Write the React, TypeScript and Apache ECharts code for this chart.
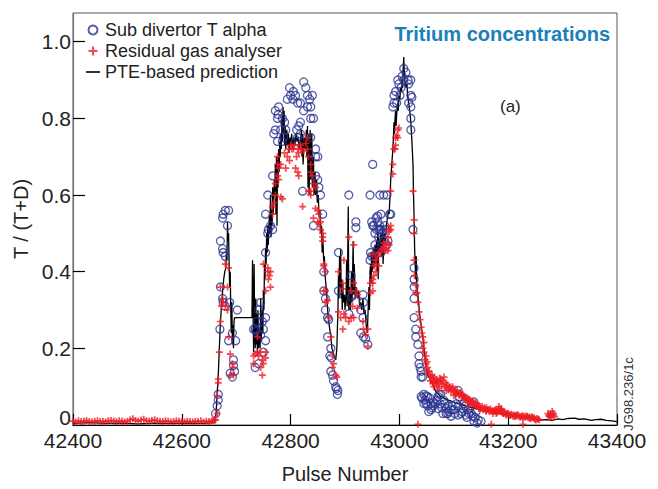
import React, { useEffect, useRef } from "react";
import * as echarts from "echarts";

const FONT = "'Liberation Sans', Arial, Helvetica, sans-serif";

const xTicks = [42400, 42600, 42800, 43000, 43200, 43400];
const yTicks = [0, 0.2, 0.4, 0.6, 0.8, 1.0];

const seriesNames = ["Sub divertor T alpha", "Residual gas analyser", "PTE-based prediction"];

// PTE-based prediction: [pulse, T/(T+D)]
const ptePrediction: number[][] = [
  [42400,0.004],[42430,0.006],[42460,0.004],[42490,0.005],[42520,0.003],[42550,0.005],[42580,0.004],[42610,0.005],[42640,0.004],[42660,0.006],
  [42663,0.03],[42665,0.08],[42667,0.13],[42669,0.2],[42671,0.27],[42673,0.31],[42675,0.35],[42677,0.38],[42679,0.4],[42681,0.41],[42682,0.45],[42683,0.43],[42684,0.53],[42685,0.48],[42686,0.5],[42687,0.42],[42688,0.36],[42689,0.4],[42690,0.3],[42691,0.24],[42692,0.32],[42693,0.21],[42694,0.26],[42695,0.2],[42696,0.27],[42697,0.28],[42729,0.28],
  [42730,0.43],[42731,0.3],[42732,0.19],[42733,0.42],[42734,0.24],[42735,0.2],[42736,0.33],[42737,0.21],[42738,0.29],[42739,0.18],[42740,0.3],[42741,0.2],[42742,0.25],[42744,0.2],[42745,0.33],[42746,0.22],[42748,0.3],[42749,0.24],[42750,0.35],[42751,0.3],[42752,0.42],[42753,0.38],[42754,0.46],[42755,0.42],[42756,0.5],[42757,0.45],[42758,0.52],[42759,0.47],[42761,0.55],[42762,0.5],[42763,0.6],[42764,0.49],[42765,0.56],[42766,0.52],[42767,0.62],[42768,0.55],[42769,0.58],[42770,0.64],[42771,0.6],[42772,0.68],[42773,0.55],[42774,0.7],[42775,0.52],[42776,0.7],[42777,0.62],[42778,0.72],[42779,0.66],[42780,0.74],[42781,0.7],[42782,0.76],[42783,0.72],[42784,0.8],[42785,0.74],[42786,0.83],[42787,0.76],[42788,0.82],[42789,0.73],[42790,0.78],[42791,0.72],[42793,0.77],[42794,0.73],[42796,0.76],[42797,0.71],[42799,0.75],[42800,0.73],[42802,0.76],[42804,0.72],[42806,0.75],[42808,0.73],[42810,0.76],[42812,0.74],[42814,0.75],[42816,0.72],[42818,0.74],[42820,0.77],[42821,0.7],[42822,0.76],[42823,0.68],[42825,0.75],[42827,0.72],[42829,0.77],[42830,0.7],[42831,0.78],[42832,0.62],[42833,0.76],[42834,0.6],[42836,0.77],[42837,0.64],[42839,0.76],[42840,0.62],[42842,0.7],[42843,0.6],[42845,0.66],[42846,0.6],[42848,0.64],[42849,0.58],[42851,0.6],[42852,0.55],[42854,0.56],[42855,0.5],[42857,0.52],[42858,0.45],[42859,0.5],[42861,0.42],[42862,0.44],[42864,0.38],[42866,0.35],[42868,0.3],[42870,0.27],[42872,0.25],[42874,0.23],[42876,0.2],[42878,0.19],[42880,0.18],[42883,0.17],
  [42885,0.2],[42886,0.25],[42887,0.3],[42888,0.39],[42889,0.33],[42890,0.44],[42891,0.36],[42892,0.46],[42893,0.33],[42894,0.38],[42895,0.3],[42896,0.37],[42897,0.32],[42899,0.34],[42900,0.3],[42902,0.34],[42903,0.43],[42904,0.31],[42906,0.57],[42907,0.3],[42908,0.36],[42910,0.3],[42912,0.4],[42913,0.32],[42915,0.48],[42916,0.34],[42917,0.42],[42919,0.33],[42921,0.36],[42923,0.33],[42925,0.35],[42927,0.31],[42929,0.32],[42931,0.3],[42933,0.33],[42935,0.29],[42937,0.3],[42939,0.26],[42941,0.24],[42942,0.28],[42944,0.36],[42945,0.3],[42946,0.4],[42947,0.42],[42948,0.37],[42949,0.45],[42950,0.4],[42952,0.46],[42953,0.41],[42955,0.47],[42956,0.42],[42958,0.48],[42959,0.4],[42960,0.5],[42961,0.38],[42962,0.49],[42964,0.45],[42966,0.5],[42967,0.44],[42969,0.51],[42970,0.42],[42972,0.5],[42974,0.48],[42976,0.52],[42978,0.54],[42980,0.56],[42981,0.55],[42983,0.6],[42984,0.64],[42986,0.68],[42988,0.72],[42989,0.75],[42990,0.79],[42991,0.76],[42992,0.8],[42993,0.82],[42994,0.78],[42995,0.81],[42997,0.84],[42998,0.82],[42999,0.86],[43001,0.85],[43002,0.88],[43004,0.87],[43005,0.9],[43006,0.88],[43007,0.93],[43008,0.96],[43009,0.92],[43010,0.9],[43012,0.88],[43014,0.89],[43015,0.86],[43017,0.84],[43019,0.82],[43021,0.79],[43023,0.74],[43025,0.68],[43026,0.6],[43027,0.54],[43028,0.46],[43029,0.42],[43030,0.38],[43031,0.44],[43032,0.36],[43034,0.34],[43036,0.31],[43038,0.28],[43040,0.26],[43043,0.23],[43046,0.19],[43049,0.15],[43052,0.13],[43056,0.12],[43060,0.11],[43066,0.09],[43076,0.074],[43090,0.065],[43108,0.056],[43125,0.048],[43150,0.04],[43175,0.032],[43200,0.026],[43220,0.021],[43242,0.018],[43255,0.013],[43261,0.013],[43270,0.014],[43280,0.012],[43292,0.016],[43300,0.014],[43310,0.017],[43322,0.018],[43330,0.015],[43340,0.016],[43353,0.012],[43360,0.014],[43371,0.015],[43380,0.012],[43395,0.01],[43400,0.008]
];

// Sub divertor T alpha: [pulse, T/(T+D)]
const subDivertor: number[][] = [
  [42662,0.03],[42665,0.05],[42667,0.065],[42667,0.08],[42670,0.25],[42671,0.36],[42675,0.33],[42676,0.32],[42680,0.31],[42671,0.48],[42675,0.46],[42676,0.45],[42680,0.44],[42676,0.55],[42680,0.56],[42686,0.56],[42675,0.54],[42684,0.52],[42688,0.32],[42702,0.30],[42686,0.22],[42693,0.24],[42699,0.22],[42695,0.17],[42695,0.155],[42693,0.125],[42689,0.135],[42697,0.14],
  [42735,0.25],[42732,0.25],[42739,0.27],[42745,0.32],[42741,0.30],[42754,0.28],[42748,0.27],[42750,0.25],[42754,0.22],[42735,0.15],[42741,0.16],[42750,0.19],[42737,0.245],[42745,0.235],[42754,0.45],[42758,0.50],[42763,0.52],[42759,0.51],[42767,0.51],[42754,0.55],[42758,0.60],[42767,0.65],
  [42772,0.82],[42778,0.83],[42776,0.80],[42785,0.80],[42777,0.81],[42772,0.77],[42782,0.77],[42769,0.76],[42776,0.74],[42787,0.75],[42785,0.74],[42794,0.85],[42800,0.86],[42804,0.85],[42798,0.88],[42805,0.87],[42809,0.86],[42813,0.84],[42818,0.84],[42824,0.895],[42828,0.88],[42831,0.86],[42835,0.85],[42840,0.86],[42831,0.83],[42837,0.83],[42824,0.82],[42818,0.79],[42815,0.78],[42837,0.80],[42842,0.80],[42811,0.77],[42818,0.76],[42809,0.74],[42813,0.75],[42837,0.75],[42846,0.72],[42846,0.70],[42850,0.70],[42846,0.65],[42850,0.64],[42852,0.62],[42855,0.60],[42822,0.61],[42859,0.55],[42842,0.52],[42861,0.40],[42791,0.77],[42789,0.79],
  [42861,0.35],[42864,0.33],[42864,0.30],[42868,0.28],[42870,0.275],[42868,0.23],[42874,0.20],[42872,0.18],[42875,0.175],[42874,0.14],[42877,0.13],[42879,0.115],[42883,0.10],[42887,0.09],[42884,0.095],[42886,0.08],
  [42888,0.45],[42888,0.35],[42907,0.60],[42911,0.39],[42920,0.53],[42920,0.515],[42914,0.34],[42912,0.335],[42907,0.29],[42933,0.34],[42929,0.30],[42934,0.32],[42933,0.28],[42929,0.24],[42934,0.23],[42938,0.225],[42942,0.21],
  [42946,0.60],[42964,0.60],[42971,0.60],[42977,0.60],[42951,0.68],[42947,0.45],[42949,0.44],[42953,0.44],[42957,0.54],[42960,0.545],[42966,0.55],[42962,0.51],[42964,0.51],[42966,0.51],[42975,0.51],[42982,0.55],[42951,0.52],
  [42949,0.53],[42953,0.52],[42955,0.50],[42958,0.51],[42960,0.53],[42962,0.49],[42964,0.52],[42968,0.50],[42971,0.48],[42973,0.52],[42977,0.47],[42979,0.48],[42984,0.55],[42946,0.43],[42955,0.47],[42960,0.46],[42966,0.45],
  [43008,0.93],[43012,0.92],[43008,0.90],[43016,0.90],[43021,0.90],[42997,0.90],[42999,0.89],[42993,0.87],[42990,0.86],[43003,0.88],[43017,0.89],[42990,0.84],[42995,0.84],[42988,0.83],[43021,0.86],[43023,0.855],[43017,0.84],[43021,0.83],[43021,0.80],[43021,0.77],[43001,0.86],[43005,0.91],
  [43025,0.51],[43027,0.41],[43027,0.38],[43027,0.36],[43027,0.33],[43027,0.28],[43030,0.25],[43030,0.23],[43034,0.21],[43036,0.18],[43036,0.16],[43040,0.14],[43040,0.125],[43043,0.125],[43038,0.15],[43045,0.08],[43052,0.074],[43049,0.056],[43058,0.056],[43058,0.04],[43071,0.074],[43076,0.08],[43082,0.064],[43089,0.05],[43086,0.03],[43095,0.04],[43108,0.09],[43110,0.074],[43108,0.05],[43119,0.056],[43126,0.04],[43132,0.03],[43137,0.06],[43135,0.023],[43145,0.013],[43150,0.01],[43095,0.023],[43113,0.03],
  [43040,0.074],[43049,0.076],[43045,0.056],[43052,0.05],[43062,0.05],[43063,0.06],[43054,0.035],[43071,0.043],[43073,0.08],[43086,0.043],[43089,0.03],[43100,0.04],[43108,0.026],[43117,0.043],[43122,0.026],[43128,0.03],[43080,0.03],[43137,0.01],
  [43042,0.07],[43047,0.065],[43056,0.07],[43060,0.045],[43066,0.055],[43069,0.065],[43075,0.055],[43078,0.045],[43084,0.055],[43091,0.035],[43097,0.05],[43102,0.03],[43104,0.055],[43115,0.035],[43121,0.05],[43124,0.02],[43130,0.045],[43139,0.02],[43141,0.035],[43143,0.005]
];

// Residual gas analyser: [pulse, T/(T+D)]
const rgaBaseline: number[][] = [
  [42400,0.010],[42405,0.008],[42410,0.011],[42415,0.009],[42420,0.010],[42425,0.012],[42430,0.009],[42435,0.008],[42440,0.010],[42445,0.011],[42450,0.009],[42455,0.010],[42460,0.008],[42465,0.011],[42470,0.012],[42475,0.010],[42480,0.009],[42485,0.011],[42490,0.010],[42495,0.008],[42500,0.010],[42505,0.013],[42510,0.016],[42515,0.012],[42520,0.010],[42525,0.013],[42530,0.015],[42535,0.011],[42540,0.010],[42545,0.012],[42550,0.014],[42555,0.011],[42560,0.010],[42565,0.009],[42570,0.011],[42575,0.010],[42580,0.008],[42585,0.009],[42590,0.011],[42595,0.010],[42600,0.009],[42605,0.008],[42610,0.010],[42615,0.009],[42620,0.008],[42625,0.010],[42630,0.009],[42635,0.011],[42640,0.008],[42645,0.010],[42650,0.009],[42655,0.011],[42658,0.012],[42661,0.014]
];

const rgaPulses: number[][] = [
  [42662,0.013],[42665,0.03],[42665,0.077],[42667,0.11],[42667,0.12],[42669,0.19],[42671,0.27],[42673,0.31],[42675,0.33],[42676,0.32],[42680,0.31],[42684,0.30],[42686,0.41],[42671,0.36],[42684,0.36],[42686,0.23],[42689,0.185],[42693,0.16],[42695,0.15],[42689,0.13],[42695,0.13],[42680,0.42],
  [42735,0.185],[42739,0.19],[42745,0.19],[42741,0.18],[42732,0.18],[42748,0.17],[42754,0.19],[42754,0.175],[42745,0.15],[42748,0.13],[42750,0.16],[42739,0.23],[42732,0.16],[42750,0.42],[42758,0.40],[42759,0.38],[42763,0.36],[42754,0.35],[42761,0.39],[42763,0.40],
  [42758,0.41],[42767,0.55],[42769,0.58],[42767,0.57],[42772,0.60],[42772,0.63],[42776,0.65],[42778,0.67],[42782,0.68],[42776,0.68],[42778,0.64],[42782,0.595],[42785,0.59],[42791,0.67],[42794,0.70],[42796,0.72],[42800,0.73],[42802,0.72],[42805,0.72],[42807,0.73],[42813,0.72],[42815,0.71],[42818,0.73],[42820,0.72],[42824,0.715],[42828,0.735],[42831,0.75],[42831,0.72],[42833,0.70],[42837,0.68],[42809,0.67],[42813,0.66],[42815,0.65],[42822,0.57],[42837,0.66],[42840,0.65],[42842,0.63],[42846,0.62],[42837,0.61],[42850,0.56],[42852,0.55],[42850,0.53],[42842,0.54],[42855,0.53],[42855,0.51],[42859,0.49],[42861,0.42],[42864,0.40],[42776,0.70],[42798,0.69],[42789,0.71],[42811,0.70],
  [42833,0.61],[42837,0.60],[42846,0.565],[42852,0.525],[42859,0.50],[42859,0.48],[42861,0.415],[42861,0.35],[42864,0.35],[42868,0.325],[42864,0.32],[42870,0.28],[42874,0.23],[42877,0.18],[42879,0.16],[42877,0.15],[42883,0.13],[42885,0.125],
  [42888,0.40],[42896,0.37],[42898,0.43],[42896,0.355],[42907,0.49],[42916,0.47],[42911,0.35],[42916,0.37],[42920,0.35],[42923,0.34],[42888,0.295],[42892,0.28],[42898,0.29],[42896,0.25],[42901,0.28],[42907,0.27],[42911,0.28],[42916,0.28],[42914,0.31],[42923,0.305],[42933,0.27],[42934,0.25],[42942,0.25],[42938,0.235],[42942,0.205],
  [42947,0.37],[42951,0.35],[42951,0.445],[42953,0.415],[42957,0.43],[42960,0.44],[42962,0.415],[42966,0.45],[42969,0.46],[42971,0.475],[42975,0.455],[42979,0.455],[42979,0.49],[42981,0.505],[42984,0.52],[42981,0.47],[42951,0.37],[42947,0.345],[42957,0.42],[42962,0.45],[42971,0.465],[42975,0.46],[42979,0.475],[42981,0.51],[42984,0.51],[42957,0.40],[42953,0.39],[42951,0.38],
  [42984,0.61],[42988,0.655],[42988,0.68],[42990,0.72],[42993,0.73],[42992,0.72],[42997,0.75],[42993,0.75],[42997,0.77],[42999,0.775],[42995,0.755],
  [43025,0.61],[43027,0.535],[43027,0.50],[43027,0.43],[43028,0.39],[43030,0.365],[43030,0.345],[43032,0.345],[43034,0.32],[43036,0.295],[43038,0.275],[43040,0.255],[43041,0.24],[43043,0.23],[43045,0.215],[43045,0.19],[43049,0.18],[43051,0.165],[43052,0.15],[43054,0.14],[43058,0.125],[43062,0.115],[43063,0.11],[43067,0.108],[43069,0.112],[43076,0.115],[43082,0.125],[43086,0.10],[43091,0.095],[43098,0.10],[43104,0.08],[43110,0.08],[43117,0.074],[43122,0.064],[43128,0.05],[43135,0.056],[43141,0.048],[43146,0.043],[43154,0.04],[43159,0.036],[43165,0.036],[43172,0.03],[43178,0.03],[43183,0.038],[43187,0.043],[43191,0.03],[43196,0.026],[43202,0.026],[43209,0.023],[43215,0.023],[43220,0.023],[43227,0.018],[43233,0.023],[43239,0.018],[43246,0.018],[43251,0.013],[43275,0.026],[43279,0.023],[43283,0.03],
  [43043,0.20],[43049,0.16],[43054,0.14],[43062,0.108],[43063,0.10],[43076,0.12],[43073,0.095],[43086,0.09],[43095,0.087],[43100,0.077],[43110,0.077],[43119,0.07],[43126,0.064],[43132,0.06],[43141,0.05],[43150,0.043],[43159,0.038],[43169,0.036],[43178,0.036],[43183,0.048],[43187,0.04],[43192,0.03],[43211,0.026],[43229,0.023],[43239,0.02],[43248,0.018],[43255,0.015],[43275,0.023],[43283,0.026],
  [43060,0.13],[43065,0.115],[43070,0.1],[43078,0.105],[43085,0.11],[43093,0.1],[43102,0.085],[43106,0.09],[43114,0.08],[43124,0.07],[43130,0.065],[43138,0.055],[43144,0.05],[43148,0.045],[43156,0.045],[43162,0.04],[43175,0.038],[43180,0.033],[43190,0.035],[43198,0.03],[43205,0.028],[43213,0.025],[43218,0.027],[43224,0.022],[43236,0.02],[43243,0.021],[43253,0.017],[43278,0.03],
  [43047,0.17],[43050,0.14],[43056,0.13],[43057,0.115],[43061,0.12],[43064,0.125],[43068,0.118],[43072,0.11],[43074,0.122],[43080,0.115],[43083,0.1],[43088,0.105],[43090,0.092],[43096,0.095],[43099,0.09],[43103,0.09],[43107,0.083],[43112,0.085],[43116,0.078],[43120,0.075],[43123,0.072],[43127,0.068],[43134,0.062],[43136,0.06],[43140,0.058],[43143,0.055],[43147,0.05],[43152,0.048],[43157,0.042],[43160,0.045],[43164,0.04],[43167,0.042],[43171,0.038],[43174,0.035],[43177,0.04],[43181,0.04],[43185,0.036],[43189,0.032],[43194,0.033],[43197,0.028],[43200,0.03],[43204,0.025],[43207,0.027],[43212,0.022],[43216,0.026],[43222,0.02],[43226,0.024],[43231,0.02],[43235,0.023],[43241,0.016],[43244,0.02],[43249,0.015],[43257,0.014],[43273,0.03],[43277,0.02],[43281,0.035],[43285,0.022],
  [43034,0.002],[43169,0.002],[43227,0.002]
];

export default function App() {
  const ref = useRef<HTMLDivElement>(null);
  useEffect(() => {
    if (!ref.current) return;
    const chart = echarts.init(ref.current, null, { renderer: "svg" });
    const isTick = (v: number) => yTicks.some((t) => Math.abs(t - v) < 1e-6);
    chart.setOption({
      animation: false,
      backgroundColor: "#fff",
      textStyle: { fontFamily: FONT },
      title: {
        text: "Tritium concentrations",
        right: 43,
        top: 19,
        textStyle: { fontSize: 20, fontWeight: "bold", color: "#1a80ba", fontFamily: FONT },
      },
      legend: {
        orient: "vertical",
        left: 81,
        top: 16,
        itemGap: 3,
        itemWidth: 14,
        itemHeight: 9,
        data: [
          { name: seriesNames[0] },
          { name: seriesNames[1] },
          { name: seriesNames[2], icon: "path://M0,0L14,0L14,1.6L0,1.6Z" },
        ],
        textStyle: { fontSize: 18, color: "#222", fontFamily: FONT },
      },
      grid: { left: 73, right: 41, top: 13, bottom: 57, show: true, borderColor: "#555", borderWidth: 1 },
      xAxis: {
        type: "value",
        min: xTicks[0],
        max: xTicks[xTicks.length - 1],
        interval: 200,
        name: "Pulse Number",
        nameLocation: "middle",
        nameGap: 39,
        nameTextStyle: { fontSize: 20, color: "#222", fontFamily: FONT },
        axisLine: { onZero: false, lineStyle: { color: "#000", width: 1.2 } },
        axisTick: { inside: true, length: 11, lineStyle: { color: "#000", width: 1.2 } },
        axisLabel: { fontSize: 21, color: "#222", margin: 5, fontFamily: FONT, formatter: (v: number) => String(v) },
        splitLine: { show: false },
      },
      yAxis: {
        type: "value",
        min: 0,
        max: 1.075,
        interval: 0.2,
        name: "T / (T+D)",
        nameLocation: "middle",
        nameGap: 36,
        nameRotate: 90,
        nameTextStyle: { fontSize: 20, color: "#222", fontFamily: FONT },
        axisLine: { lineStyle: { color: "#777", width: 1.2 } },
        axisTick: { inside: true, length: 12, lineStyle: { color: "#000", width: 1.2 } },
        axisLabel: {
          fontSize: 21,
          color: "#222",
          margin: 2,
          fontFamily: FONT,
          showMaxLabel: false,
          formatter: (v: number) => (!isTick(v) ? "" : v === 0 ? "{z|0}" : v.toFixed(1)),
          rich: { z: { fontSize: 21, color: "#222", fontFamily: FONT, padding: [0, 0, 16, 0] } },
        },
        splitLine: { show: false },
      },
      graphic: [
        { type: "text", left: 500, top: 98, style: { text: "(a)", fontSize: 17, fill: "#222", fontFamily: FONT } },
        {
          type: "text",
          x: 628,
          y: 394,
          rotation: Math.PI / 2,
          style: { text: "JG98.236/1c", fontSize: 13, fill: "#333", fontFamily: FONT, align: "center", verticalAlign: "middle" },
        },
      ],
      series: [
        {
          name: seriesNames[0],
          type: "scatter",
          data: subDivertor,
          symbol: "circle",
          symbolSize: 8,
          z: 3,
          itemStyle: { color: "rgba(255,255,255,0)", borderColor: "#2b3590", borderWidth: 1.3 },
        },
        {
          name: seriesNames[1],
          type: "scatter",
          data: [...rgaBaseline, ...rgaPulses],
          symbol: "path://M0,4L8,4M4,0L4,8",
          symbolSize: 7,
          z: 4,
          itemStyle: { color: "rgba(255,255,255,0)", borderColor: "#ee1d25", borderWidth: 1.7 },
        },
        {
          name: seriesNames[2],
          type: "line",
          data: ptePrediction,
          symbol: "none",
          showSymbol: false,
          z: 2,
          lineStyle: { color: "#000", width: 1.3 },
          itemStyle: { color: "#000" },
        },
      ],
    });
    return () => chart.dispose();
  }, []);
  return <div ref={ref} style={{ position: "fixed", left: 0, top: 0, width: 658, height: 489, background: "#fff" }} />;
}
